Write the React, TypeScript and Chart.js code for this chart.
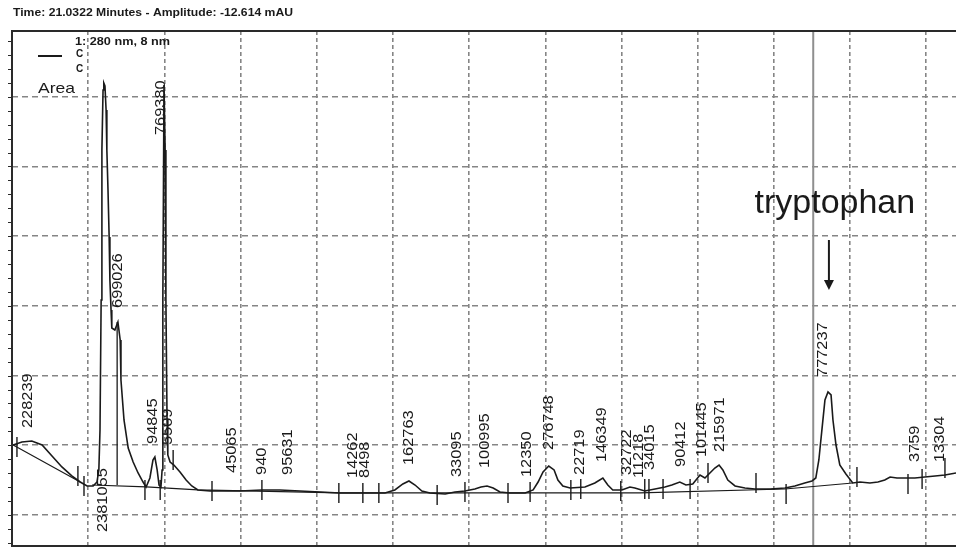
import { useEffect, useRef } from "react";
import { Chart, registerables } from "chart.js";

Chart.register(...registerables);

// ---------- data ----------
const TITLE = "Time: 21.0322 Minutes - Amplitude: -12.614 mAU";
const LEGEND_HEAD = "1: 280 nm, 8 nm";
const LEGEND_ROWS = ["C", "C"];
const LEGEND_AREA = "Area";
const CURSOR_TIME = 21.0322;

const X_MIN = 0;
const X_MAX = 24.78;
const Y_MIN = -44.5;
const Y_MAX = 694.4;
const xGridTicks = [2, 4, 6, 8, 10, 12, 14, 16, 18, 20, 22, 24];
const yGridTicks = [0, 100, 200, 300, 400, 500, 600];
const yMinorTicks = [-40, -20, 20, 40, 60, 80, 120, 140, 160, 180, 220, 240, 260, 280, 320, 340, 360, 380, 420, 440, 460, 480, 520, 540, 560, 580, 620, 640, 660, 680];

const signalTimes = [
  0.03, 0.26, 0.52, 0.79, 1.05, 1.31, 1.57, 1.79, 1.97, 2.13, 2.23, 2.28, 2.31, 2.34, 2.36, 2.39, 2.41, 2.44, 2.47, 2.49,
  2.52, 2.55, 2.57, 2.6, 2.62, 2.7, 2.78, 2.84, 2.86, 2.94, 3.05, 3.18, 3.31, 3.44, 3.52, 3.62, 3.7, 3.75, 3.81, 3.86,
  3.91, 3.94, 3.96, 3.99, 4.02, 4.04, 4.07, 4.09, 4.15, 4.25, 4.41, 4.57, 4.72, 4.88, 5.2, 5.46, 5.98, 6.56, 7.03, 7.56,
  8.08, 8.61, 9.13, 9.79, 10.05, 10.26, 10.42, 10.58, 10.76, 10.97, 11.37, 11.63, 11.89, 12.15, 12.31, 12.47, 12.63, 12.81, 13.07, 13.47,
  13.68, 13.81, 13.94, 14.09, 14.23, 14.33, 14.46, 14.65, 15.04, 15.3, 15.51, 15.64, 15.77, 16.01, 16.22, 16.35, 16.61, 16.88, 17.14, 17.32,
  17.53, 17.69, 17.87, 18.06, 18.19, 18.32, 18.45, 18.56, 18.66, 18.79, 18.98, 19.24, 19.5, 19.9, 20.29, 20.55, 20.81, 21.0, 21.1, 21.18,
  21.26, 21.34, 21.42, 21.5, 21.55, 21.63, 21.73, 21.89, 22.07, 22.26, 22.52, 22.73, 22.91, 23.05, 23.23, 23.44, 23.7, 23.96, 24.23, 24.49,
  24.78,
];
const signalValues = [
  100.4, 104.7, 106.2, 100.4, 84.6, 68.9, 56.0, 47.3, 41.6, 41.6, 47.3, 64.6, 122.0, 308.5, 523.7, 609.7, 619.8, 615.5, 581.1, 523.7,
  466.3, 398.8, 337.2, 294.1, 268.3, 265.4, 276.9, 251.1, 193.7, 136.3, 96.1, 76.0, 60.3, 47.3, 40.2, 53.1, 78.9, 83.2, 64.6, 43.0,
  40.2, 64.6, 308.5, 616.9, 523.7, 308.5, 136.3, 86.1, 76.0, 71.7, 61.7, 50.2, 41.6, 35.9, 34.4, 34.4, 34.4, 35.9, 35.9, 34.4,
  33.0, 31.6, 31.6, 31.6, 35.9, 44.5, 48.8, 43.0, 34.4, 31.6, 30.1, 33.0, 34.4, 37.3, 40.2, 41.6, 38.7, 33.0, 31.6, 31.6,
  35.9, 47.3, 61.7, 70.3, 64.6, 50.2, 41.6, 38.7, 40.2, 45.9, 53.1, 43.0, 35.9, 35.9, 40.2, 38.7, 34.4, 37.3, 40.2, 43.0,
  47.3, 43.0, 44.5, 57.4, 53.1, 60.3, 67.4, 71.7, 64.6, 50.2, 41.6, 38.7, 37.3, 37.3, 38.7, 41.6, 45.9, 48.8, 53.1, 78.9,
  122.0, 165.0, 176.5, 172.2, 136.3, 100.4, 71.7, 58.8, 45.9, 47.3, 45.9, 47.3, 50.2, 54.5, 53.1, 53.1, 53.1, 54.5, 56.0, 57.4,
  60.3,
];

// integration baselines (null = gap)
const baselineTimes = [0.03, 1.79, 1.95, 2.1, 3.52, 4.88, 8.61, 16.48, 20.29, 22.07];
const baselineValues = [100.4, 47.3, null, 43.0, 40.2, 35.9, 31.6, 31.6, 37.3, 45.9];

// perpendicular drop line between the first peak and its shoulder
const dropTimes = [2.76, 2.76];
const dropValues = [276.9, 43.0];

// peak start / end markers
const markTimes = [0.13, 1.73, 1.89, 3.49, 3.89, 4.23, 5.25, 6.56, 8.58, 9.21, 9.63, 11.16, 11.89, 13.02, 13.6, 14.67, 14.93, 15.98, 16.61, 16.72, 17.09, 17.8, 18.27, 19.53, 20.32, 22.18, 23.52, 23.89, 24.49];
const markValues = [97.6, 56.0, 41.6, 35.9, 35.9, 78.9, 34.4, 35.9, 31.6, 31.6, 31.6, 28.7, 33.0, 31.6, 33.0, 35.9, 37.3, 34.4, 37.3, 37.3, 37.3, 37.3, 60.3, 45.9, 30.1, 54.5, 44.5, 51.7, 67.4];

// peak area labels: text, time of label, value at the lower end of the label
const peakLabels = ["228239", "2381055", "699026", "769380", "94845", "5509", "45065", "940", "95631", "14262", "8498", "162763", "33095", "100995", "12350", "276748", "22719", "146349", "32722", "11218", "34015", "90412", "101445", "215971", "777237", "3759", "13304"];
const peakLabelTimes = [0.42, 2.39, 2.78, 3.91, 3.7, 4.09, 5.77, 6.56, 7.24, 8.95, 9.27, 10.42, 11.68, 12.42, 13.52, 14.09, 14.91, 15.49, 16.14, 16.46, 16.75, 17.56, 18.11, 18.58, 21.29, 23.7, 24.36];
const peakLabelValues = [124.8, -24.4, 297.0, 545.2, 101.9, 100.4, 60.3, 57.4, 57.4, 53.1, 53.1, 71.7, 54.5, 67.4, 54.5, 93.3, 57.4, 76.0, 57.4, 53.1, 64.6, 68.9, 83.2, 90.4, 198.0, 76.0, 76.0];

const ANNOTATION = "tryptophan";
const annotationTime = 21.6;
const annotationValue = 433;
const arrowTime = 21.444;
const arrowFrom = 394.5;
const arrowTo = 322.8;

// ---------- drawing ----------
const FONT = "'Liberation Sans', Arial, Helvetica, sans-serif";
const INK = "#1a1a1a";

function stretchedText(
  ctx: CanvasRenderingContext2D,
  text: string,
  x: number,
  y: number,
  font: string,
  width: number | null,
  align: "left" | "center"
) {
  ctx.save();
  ctx.font = font;
  const w = ctx.measureText(text).width;
  const sx = width ? width / w : 1;
  ctx.translate(x, y);
  ctx.scale(sx, 1);
  ctx.textAlign = align;
  ctx.textBaseline = "middle";
  ctx.fillText(text, 0, 0);
  ctx.restore();
}

const decorPlugin = {
  id: "decor",
  beforeDatasetsDraw(chart: any) {
    const { ctx, chartArea, scales } = chart;
    const x = scales.x.getPixelForValue(CURSOR_TIME);
    ctx.save();
    ctx.strokeStyle = "#8f8f8f";
    ctx.lineWidth = 2;
    ctx.beginPath();
    ctx.moveTo(x, chartArea.top);
    ctx.lineTo(x, chartArea.bottom);
    ctx.stroke();
    ctx.restore();
  },
  afterDatasetsDraw(chart: any) {
    const { ctx, scales } = chart;
    const xs = scales.x;
    const ys = scales.y;
    ctx.save();
    ctx.fillStyle = INK;
    // rotated peak labels
    peakLabels.forEach((label, i) => {
      const px = xs.getPixelForValue(peakLabelTimes[i]);
      const py = ys.getPixelForValue(peakLabelValues[i]);
      ctx.save();
      ctx.translate(px, py);
      ctx.rotate(-Math.PI / 2);
      ctx.scale(1.17, 1);
      ctx.font = `14px ${FONT}`;
      ctx.textAlign = "left";
      ctx.textBaseline = "middle";
      ctx.fillText(label, 0, 0);
      ctx.restore();
    });
    // annotation
    const ax = xs.getPixelForValue(annotationTime);
    const ay = ys.getPixelForValue(annotationValue);
    ctx.font = `34px ${FONT}`;
    ctx.textAlign = "center";
    ctx.textBaseline = "alphabetic";
    ctx.fillText(ANNOTATION, ax, ay);
    // arrow
    const arx = xs.getPixelForValue(arrowTime);
    const ar1 = ys.getPixelForValue(arrowFrom);
    const ar2 = ys.getPixelForValue(arrowTo);
    ctx.strokeStyle = INK;
    ctx.lineWidth = 2;
    ctx.beginPath();
    ctx.moveTo(arx, ar1);
    ctx.lineTo(arx, ar2 - 9);
    ctx.stroke();
    ctx.beginPath();
    ctx.moveTo(arx - 5, ar2 - 10);
    ctx.lineTo(arx + 5, ar2 - 10);
    ctx.lineTo(arx, ar2);
    ctx.closePath();
    ctx.fill();
    ctx.restore();
  },
  afterDraw(chart: any) {
    const { ctx, chartArea, scales } = chart;
    const { left, top, right, bottom } = chartArea;
    ctx.save();
    // frame
    ctx.strokeStyle = "#2a2a2a";
    ctx.lineWidth = 2;
    ctx.beginPath();
    ctx.moveTo(right + 2, top);
    ctx.lineTo(left, top);
    ctx.lineTo(left, bottom);
    ctx.lineTo(right + 2, bottom);
    ctx.stroke();
    // left axis ticks
    ctx.lineWidth = 1;
    [...yGridTicks, ...yMinorTicks].forEach((v) => {
      const py = Math.round(scales.y.getPixelForValue(v)) + 0.5;
      ctx.beginPath();
      ctx.moveTo(left - 4, py);
      ctx.lineTo(left, py);
      ctx.stroke();
    });
    // title
    ctx.fillStyle = INK;
    stretchedText(ctx, TITLE, 13, 13, `bold 11px ${FONT}`, 280, "left");
    // in-plot legend
    stretchedText(ctx, LEGEND_HEAD, 75, 42, `bold 10px ${FONT}`, 95, "left");
    ctx.strokeStyle = INK;
    ctx.lineWidth = 2;
    ctx.beginPath();
    ctx.moveTo(38, 56);
    ctx.lineTo(62, 56);
    ctx.stroke();
    stretchedText(ctx, LEGEND_ROWS[0], 76, 54, `bold 10px ${FONT}`, null, "left");
    stretchedText(ctx, LEGEND_ROWS[1], 76, 69, `bold 10px ${FONT}`, null, "left");
    stretchedText(ctx, LEGEND_AREA, 38, 89, `15px ${FONT}`, 37, "left");
    ctx.restore();
  },
};

export default function App() {
  const canvasRef = useRef<HTMLCanvasElement | null>(null);

  useEffect(() => {
    const canvas = canvasRef.current;
    if (!canvas) return;
    const toPts = (ts: number[], vs: (number | null)[]) => ts.map((t, i) => ({ x: t, y: vs[i] }));
    const chart = new Chart(canvas, {
      type: "line",
      data: {
        datasets: [
          {
            label: "signal",
            data: toPts(signalTimes, signalValues),
            borderColor: INK,
            borderWidth: 1.6,
            pointRadius: 0,
            tension: 0,
          },
          {
            label: "baseline",
            data: toPts(baselineTimes, baselineValues),
            borderColor: INK,
            borderWidth: 1.2,
            pointRadius: 0,
            spanGaps: false,
            tension: 0,
          },
          {
            label: "drop",
            data: toPts(dropTimes, dropValues),
            borderColor: INK,
            borderWidth: 1.3,
            pointRadius: 0,
          },
          {
            label: "marks",
            data: toPts(markTimes, markValues),
            showLine: false,
            pointStyle: "line",
            rotation: 90,
            pointRadius: 10,
            borderColor: INK,
            borderWidth: 1.4,
            pointHoverRadius: 10,
          },
        ] as any,
      },
      options: {
        animation: false,
        responsive: false,
        events: [],
        layout: { autoPadding: false, padding: { left: 12, top: 31, right: 0, bottom: 2 } },
        plugins: { legend: { display: false }, tooltip: { enabled: false }, title: { display: false } },
        scales: {
          x: {
            type: "linear",
            min: X_MIN,
            max: X_MAX,
            afterBuildTicks: (axis: any) => {
              axis.ticks = xGridTicks.map((v) => ({ value: v }));
            },
            afterFit: (axis: any) => {
              axis.height = 0;
            },
            ticks: { display: false },
            grid: { color: "#858585", lineWidth: 1.6, drawTicks: false },
            border: { display: false, dash: [4, 3] },
          },
          y: {
            type: "linear",
            min: Y_MIN,
            max: Y_MAX,
            afterBuildTicks: (axis: any) => {
              axis.ticks = yGridTicks.map((v) => ({ value: v }));
            },
            afterFit: (axis: any) => {
              axis.width = 0;
            },
            ticks: { display: false },
            grid: { color: "#858585", lineWidth: 1.6, drawTicks: false },
            border: { display: false, dash: [6, 4] },
          },
        },
      } as any,
      plugins: [decorPlugin],
    });
    return () => chart.destroy();
  }, []);

  return (
    <div style={{ position: "fixed", left: 0, top: 0, width: 956, height: 548, background: "#fff" }}>
      <canvas ref={canvasRef} width={956} height={548} style={{ display: "block" }} />
    </div>
  );
}
